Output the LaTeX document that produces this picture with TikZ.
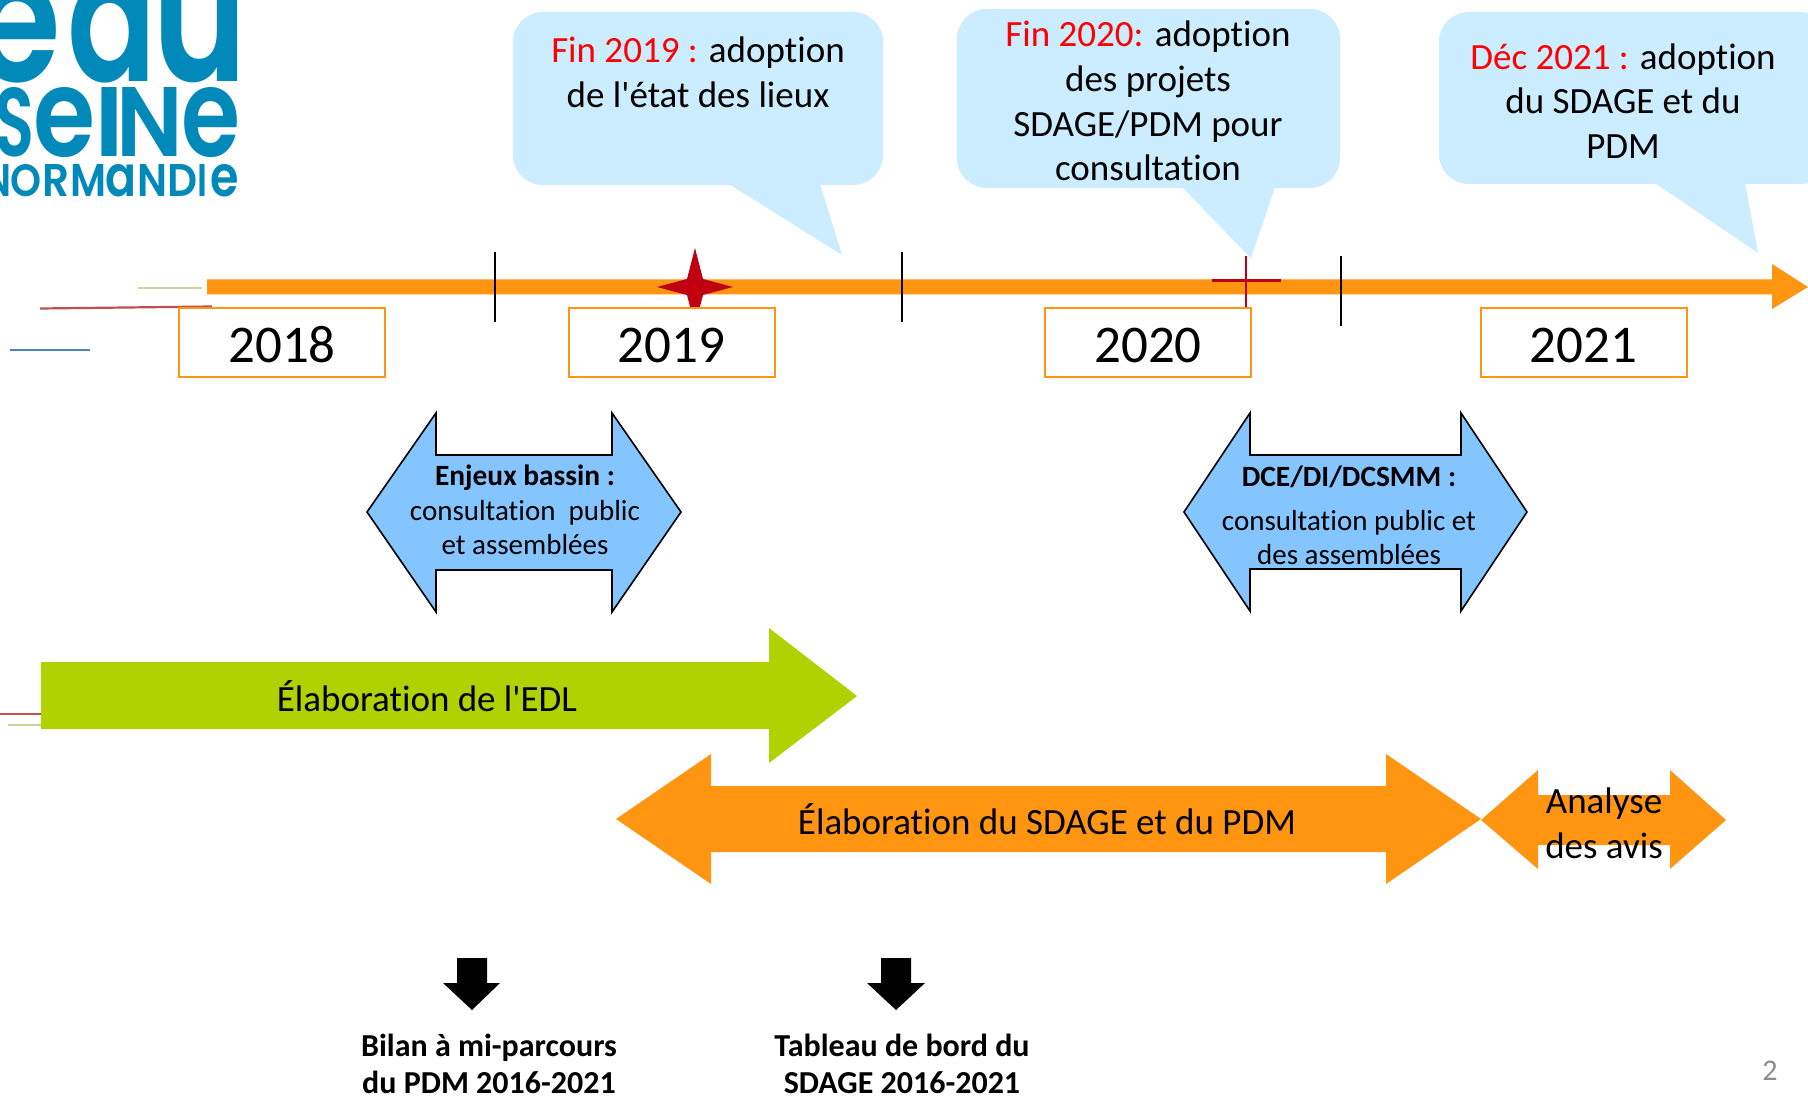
\documentclass[tikz,border=0pt]{standalone}
\usepackage{fontspec}
\usepackage{graphicx}
\setmainfont{Carlito}[Ligatures={TeXOff,NoCommon}]
\newfontfamily\logofont{Poppins SemiBold}
\definecolor{orangeM}{HTML}{FF9511}
\definecolor{bubble}{HTML}{CCECFF}
\definecolor{bluearrow}{HTML}{85C5FF}
\definecolor{limeM}{HTML}{AFD200}
\definecolor{logoblue}{HTML}{0089B9}
\definecolor{redT}{HTML}{FF0000}
\definecolor{redS}{HTML}{C00010}
\newcommand{\fsz}[2]{\fontsize{#1}{#2}\selectfont}
\tikzset{
  bubblefill/.style={fill=bubble,rounded corners=15pt},
  bubbletext/.style={inner sep=0pt,align=center,font=\fsz{18.5}{22.3}},
  yearbox/.style={draw=orangeM,line width=1pt,fill=white,minimum width=103pt,minimum height=34.5pt,inner sep=0pt,font=\fsz{26.5}{30},text height=19.2pt,text depth=0pt},
  tick/.style={line width=0.9pt,black},
  dbl/.style={fill=bluearrow,draw=black,line width=0.8pt,line join=miter},
  smalltext/.style={inner sep=0pt,font=\fsz{14.5}{17.3},align=center},
  bigtext/.style={inner sep=0pt,font=\fsz{18.5}{22.3},align=center},
  boldtext/.style={inner sep=0pt,font=\fsz{14.7}{18.5}\bfseries,align=center},
  boldbig/.style={inner sep=0pt,font=\fsz{16}{18.5}\bfseries,align=center},
  stray/.style={line width=1.4pt}
}
\newcommand{\logoch}[6]{\node[anchor=base west,inner sep=0pt,text=logoblue] (#1) at (#2,#3) {\logofont\resizebox{#4pt}{#5pt}{#6}};}
\begin{document}
\begin{tikzpicture}[x=0.5pt,y=-0.5pt]
\useasboundingbox (0,0) rectangle (1808,1096);
\clip (0,0) rectangle (1808,1096);
\fill[white] (0,0) rectangle (1808,1096);
% logo (widths and heights in pt = px/2)
\logoch{la}{-27}{82}{43.75}{50}{e}
\logoch{lb}{67}{82}{44.6}{50}{a}
\logoch{lc}{152.5}{82}{47.5}{55}{u}
\logoch{ld}{-5.4}{157}{20}{34.5}{S}
\logoch{le}{33.3}{157}{31}{34.5}{e}
\logoch{lf}{94}{157}{15}{34.5}{I}
\logoch{lg}{115.7}{157}{33.3}{34.5}{N}
\logoch{lh}{181.5}{157}{29.5}{34.5}{e}
\logoch{li}{-17}{197}{14}{16}{N}
\logoch{lj}{10.5}{197}{15.5}{16}{O}
\logoch{lk}{42}{197}{13.5}{16}{R}
\logoch{ll}{70}{197}{18}{16}{M}
\logoch{lm}{105}{197}{15.5}{16}{a}
\logoch{ln}{136.7}{197}{15}{16}{N}
\logoch{lo}{167}{197}{15}{16}{D}
\logoch{lp}{197}{197}{5}{16}{I}
\logoch{lq}{210.3}{197}{14.2}{16}{e}
% stray lines
\draw[stray,color={rgb,255:red,195;green,214;blue,155}] (138,288) -- (202,288);
\draw[stray,line width=1.1pt,color={rgb,255:red,192;green,80;blue,77}] (40,308.5) -- (212,306.5);
\draw[stray,color={rgb,255:red,79;green,129;blue,189}] (10,350) -- (90,350);
\draw[stray,color={rgb,255:red,192;green,80;blue,77}] (0,714) -- (41,714);
\draw[stray,color={rgb,255:red,195;green,214;blue,155}] (8,725) -- (41,725);
% callouts
\fill[bubblefill] (513,12) rectangle (883,185);
\fill[bubble] (729,184) -- (842,255) -- (820,184) -- cycle;
\fill[bubblefill] (957,9) rectangle (1340,188);
\fill[bubble] (1182,187) -- (1251,258) -- (1275,187) -- cycle;
\fill[bubblefill] (1439,12) rectangle (1830,184);
\fill[bubble] (1655,183) -- (1758,253) -- (1745,183) -- cycle;
\node[bubbletext] (c1) at (698,72) {\textcolor{redT}{Fin 2019 :} adoption\\de l'état des lieux};
\node[bubbletext] (c2) at (1148,101) {\textcolor{redT}{Fin 2020:} adoption\\des projets\\SDAGE/PDM pour\\consultation};
\node[bubbletext] (c3) at (1623,101) {\textcolor{redT}{Déc 2021 :} adoption\\du SDAGE et du\\PDM};
% timeline
\fill[orangeM] (207,279.5) -- (1772,279.5) -- (1772,264) -- (1808,287) -- (1772,309) -- (1772,294.5) -- (207,294.5) -- cycle;
% star
\fill[redS] (695,248) -- (703,279) -- (733,287) -- (703,295) -- (695,326) -- (687,295) -- (657,287) -- (687,279) -- cycle;
% cross
\draw[line width=1.5pt,color=redS] (1212,281) -- (1281,281);
\draw[line width=1.1pt,color=redS] (1246,256) -- (1246,308);
% ticks
\draw[tick] (495,252) -- (495,322);
\draw[tick] (902,252) -- (902,322);
\draw[tick] (1341,256) -- (1341,326);
% years
\node[yearbox] (y18) at (282,343) {2018};
\node[yearbox] (y19) at (671.5,343) {2019};
\node[yearbox] (y20) at (1148,343) {2020};
\node[yearbox] (y21) at (1583.5,343) {2021};
% blue double arrows
\draw[dbl] (367,512) -- (436,413) -- (436,455) -- (612,455) -- (612,413) -- (681,512) -- (612,612) -- (612,570) -- (436,570) -- (436,612) -- cycle;
\draw[dbl] (1184,512) -- (1250,413) -- (1250,455) -- (1461,455) -- (1461,413) -- (1527,512) -- (1461,611) -- (1461,569) -- (1250,569) -- (1250,611) -- cycle;
\node[boldtext] (e1) at (525,477.5) {Enjeux bassin :};
\node[smalltext] (e2) at (525,527.5) {consultation\ \ public\\et assemblées};
\node[boldtext] (d1) at (1349,477) {DCE/DI/DCSMM :};
\node[smalltext] (d2) at (1349,537.5) {consultation public et\\des assemblées};
% EDL
\fill[limeM] (41,662) -- (769,662) -- (769,628) -- (857,696) -- (769,763) -- (769,729) -- (41,729) -- cycle;
\node[bigtext] (edl) at (427,696) {Élaboration de l'EDL};
% SDAGE
\fill[orangeM] (616,819) -- (711,754) -- (711,786) -- (1386,786) -- (1386,754) -- (1481,819) -- (1386,884) -- (1386,852) -- (711,852) -- (711,884) -- cycle;
\node[bigtext] (sd) at (1047,819) {Élaboration du SDAGE et du PDM};
% Analyse
\fill[orangeM] (1481,820) -- (1538,770) -- (1538,795) -- (1670,795) -- (1670,770) -- (1726,820) -- (1670,869) -- (1670,845) -- (1538,845) -- (1538,869) -- cycle;
\node[bigtext] (an) at (1604,823) {Analyse\\des avis};
% black arrows
\fill[black] (457,958) -- (487,958) -- (487,983) -- (500,983) -- (472,1010) -- (443,983) -- (457,983) -- cycle;
\fill[black] (881,958) -- (911,958) -- (911,983) -- (925,983) -- (896,1010) -- (867,983) -- (881,983) -- cycle;
\node[boldbig] (b1) at (489,1063.5) {Bilan à mi-parcours\\du PDM 2016-2021};
\node[boldbig] (b2) at (902,1063.5) {Tableau de bord du\\SDAGE 2016-2021};
\node[inner sep=0pt,text=black!45,font=\fsz{15}{18}] (pg) at (1770,1071) {2};
\end{tikzpicture}
\end{document}
